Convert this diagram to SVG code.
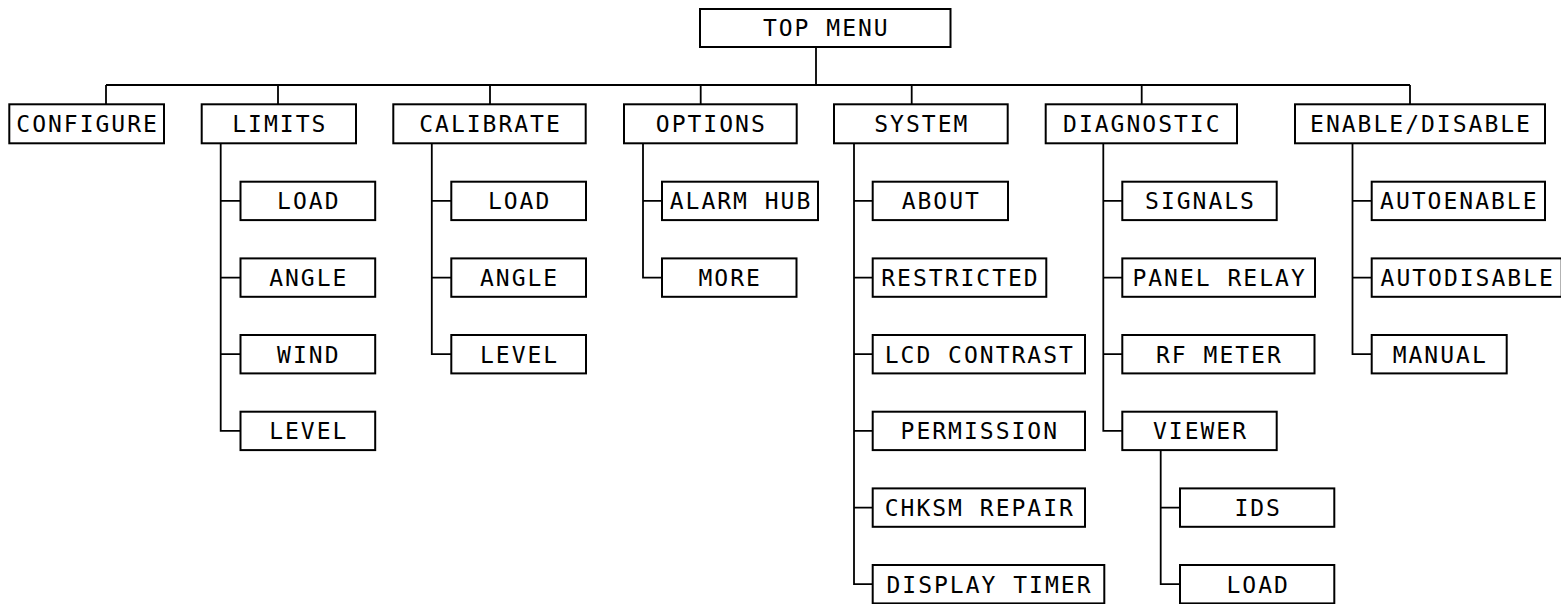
<svg xmlns="http://www.w3.org/2000/svg" width="1561" height="604" viewBox="0 0 1561 604">
<style>
rect{fill:#fff;stroke:#000;stroke-width:2}
text{font-family:"DejaVu Sans Mono","Liberation Mono",monospace;font-size:23px;letter-spacing:2px;text-anchor:middle;fill:#000}
.c{fill:none;stroke:#000;stroke-width:1.8}
</style>
<rect x="0" y="0" width="1561" height="604" style="stroke:none"/>
<g id="connectors" class="c">
<path d="M816 47V85M106 85H1410M106 85V104.3M278 85V104.3M490 85V104.3M700.7 85V104.3M911.7 85V104.3M1141.7 85V104.3M1410 85V104.3"/>
<path d="M220.7 143.3V430.9H240.5M220.7 200.9H240.5M220.7 277.6H240.5M220.7 354.2H240.5"/>
<path d="M431.8 143.3V354.2H451.3M431.8 200.9H451.3M431.8 277.6H451.3"/>
<path d="M643 143.3V277.6H662M643 200.9H662"/>
<path d="M854 143.3V584.2H872.7M854 200.9H872.7M854 277.6H872.7M854 354.2H872.7M854 430.9H872.7M854 507.6H872.7"/>
<path d="M1103.3 143.3V430.9H1122.3M1103.3 200.9H1122.3M1103.3 277.6H1122.3M1103.3 354.2H1122.3"/>
<path d="M1160.7 450.1V584.2H1180M1160.7 507.6H1180"/>
<path d="M1352.5 143.3V354.2H1371.7M1352.5 200.9H1371.7M1352.5 277.6H1371.7"/>
</g>
<g id="top-menu"><rect x="700" y="9" width="250.5" height="38"/><text x="826.3" y="36.3">TOP MENU</text></g>
<g id="configure"><rect x="9.3" y="104.3" width="154.7" height="39"/><text x="87.6" y="132.1">CONFIGURE</text></g>
<g id="limits"><rect x="201.7" y="104.3" width="154.3" height="39"/><text x="279.8" y="132.1">LIMITS</text></g>
<g id="calibrate"><rect x="393.3" y="104.3" width="192.4" height="39"/><text x="490.5" y="132.1">CALIBRATE</text></g>
<g id="options"><rect x="624" y="104.3" width="172.7" height="39"/><text x="711.3" y="132.1">OPTIONS</text></g>
<g id="system"><rect x="834" y="104.3" width="173.7" height="39"/><text x="921.8" y="132.1">SYSTEM</text></g>
<g id="diagnostic"><rect x="1045.7" y="104.3" width="191.3" height="39"/><text x="1142.3" y="132.1">DIAGNOSTIC</text></g>
<g id="enable-disable"><rect x="1295" y="104.3" width="250" height="39"/><text x="1421" y="132.1">ENABLE/DISABLE</text></g>

<g id="limits-load"><rect x="240.5" y="181.7" width="134.7" height="38.4"/><text x="308.8" y="209.2">LOAD</text></g>
<g id="limits-angle"><rect x="240.5" y="258.4" width="134.7" height="38.4"/><text x="308.8" y="285.9">ANGLE</text></g>
<g id="limits-wind"><rect x="240.5" y="335" width="134.7" height="38.4"/><text x="308.8" y="362.5">WIND</text></g>
<g id="limits-level"><rect x="240.5" y="411.7" width="134.7" height="38.4"/><text x="308.8" y="439.2">LEVEL</text></g>

<g id="calibrate-load"><rect x="451.3" y="181.7" width="134.7" height="38.4"/><text x="519.6" y="209.2">LOAD</text></g>
<g id="calibrate-angle"><rect x="451.3" y="258.4" width="134.7" height="38.4"/><text x="519.6" y="285.9">ANGLE</text></g>
<g id="calibrate-level"><rect x="451.3" y="335" width="134.7" height="38.4"/><text x="519.6" y="362.5">LEVEL</text></g>

<g id="options-alarm-hub"><rect x="662" y="181.7" width="156" height="38.4"/><text x="741" y="209.2">ALARM HUB</text></g>
<g id="options-more"><rect x="662" y="258.4" width="134.5" height="38.4"/><text x="730.2" y="285.9">MORE</text></g>

<g id="system-about"><rect x="872.7" y="181.7" width="135.3" height="38.4"/><text x="941.3" y="209.2">ABOUT</text></g>
<g id="system-restricted"><rect x="872.7" y="258.4" width="173.6" height="38.4"/><text x="960.5" y="285.9">RESTRICTED</text></g>
<g id="system-lcd-contrast"><rect x="872.7" y="335" width="212.3" height="38.4"/><text x="979.8" y="362.5">LCD CONTRAST</text></g>
<g id="system-permission"><rect x="872.7" y="411.7" width="212.3" height="38.4"/><text x="979.8" y="439.2">PERMISSION</text></g>
<g id="system-chksm-repair"><rect x="872.7" y="488.4" width="212.3" height="38.4"/><text x="979.8" y="515.9">CHKSM REPAIR</text></g>
<g id="system-display-timer"><rect x="872.7" y="565" width="231.6" height="38.4"/><text x="989.5" y="592.5">DISPLAY TIMER</text></g>

<g id="diag-signals"><rect x="1122.3" y="181.7" width="154.4" height="38.4"/><text x="1200.5" y="209.2">SIGNALS</text></g>
<g id="diag-panel-relay"><rect x="1122.3" y="258.4" width="192.7" height="38.4"/><text x="1219.6" y="285.9">PANEL RELAY</text></g>
<g id="diag-rf-meter"><rect x="1122.3" y="335" width="192.2" height="38.4"/><text x="1219.4" y="362.5">RF METER</text></g>
<g id="diag-viewer"><rect x="1122.3" y="411.7" width="154.4" height="38.4"/><text x="1200.5" y="439.2">VIEWER</text></g>
<g id="viewer-ids"><rect x="1180" y="488.4" width="154.3" height="38.4"/><text x="1258.2" y="515.9">IDS</text></g>
<g id="viewer-load"><rect x="1180" y="565" width="154.3" height="38.4"/><text x="1258.2" y="592.5">LOAD</text></g>

<g id="enable-autoenable"><rect x="1371.7" y="181.7" width="173.3" height="38.4"/><text x="1459.3" y="209.2">AUTOENABLE</text></g>
<g id="enable-autodisable"><rect x="1371.7" y="258.4" width="190" height="38.4"/><text x="1467.7" y="285.9">AUTODISABLE</text></g>
<g id="enable-manual"><rect x="1371.7" y="335" width="135" height="38.4"/><text x="1440.2" y="362.5">MANUAL</text></g>
</svg>
